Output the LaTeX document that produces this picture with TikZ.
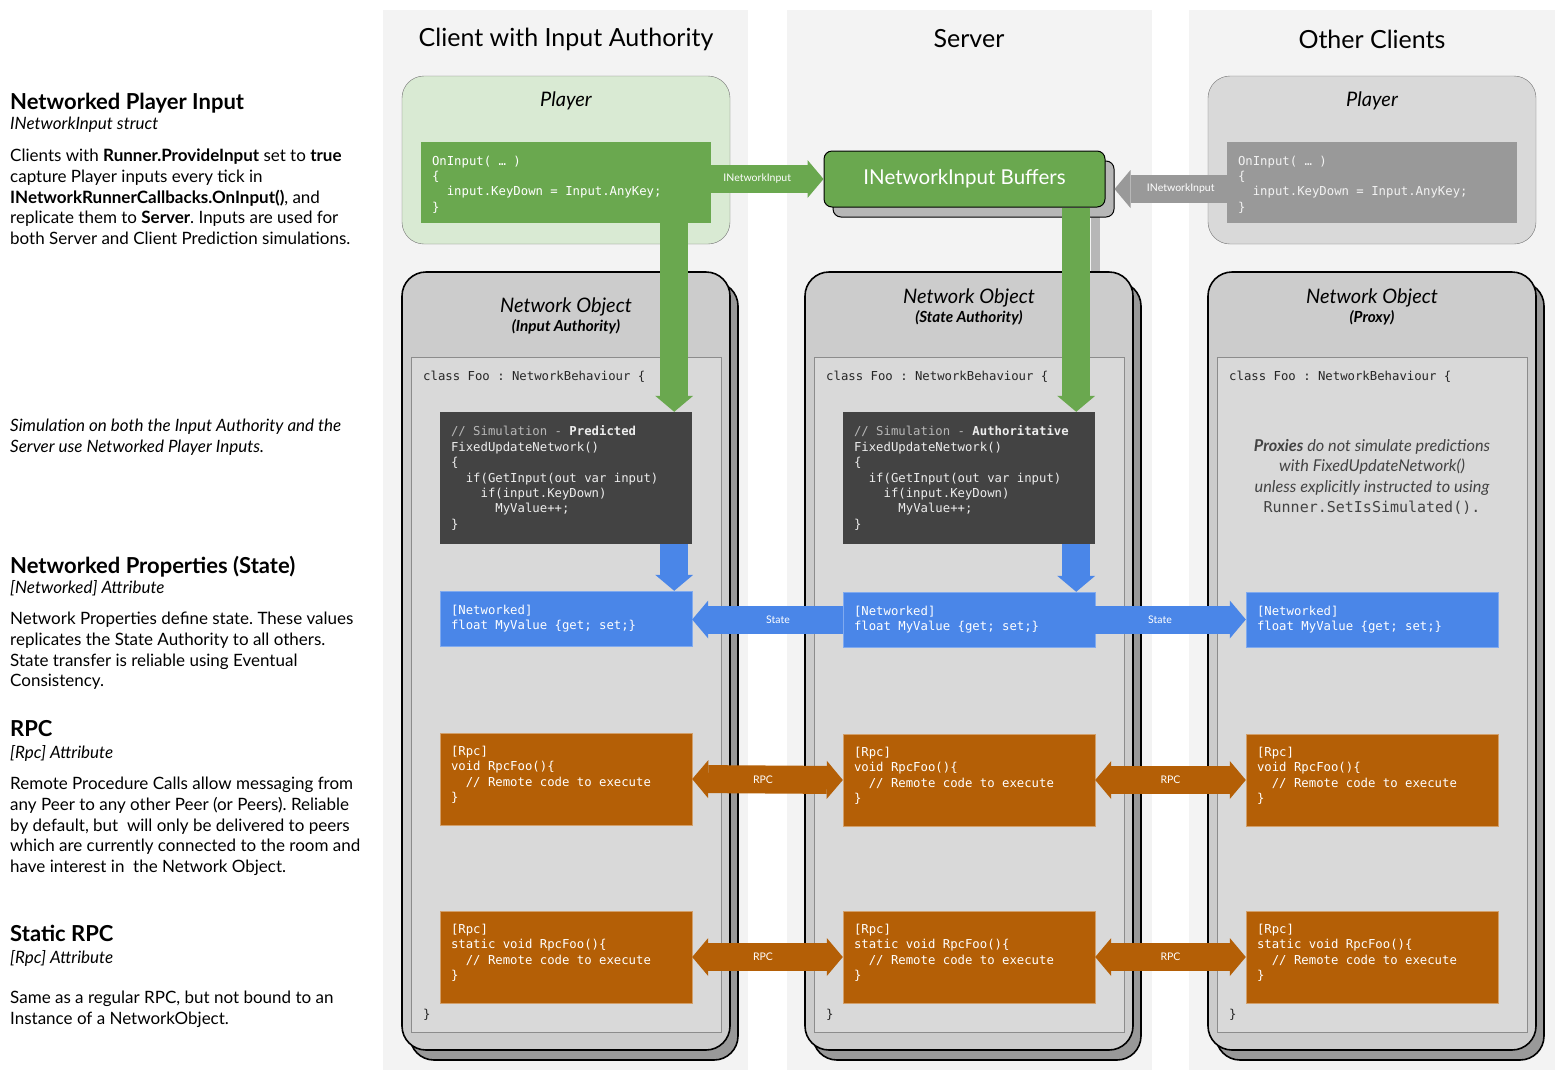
\documentclass[tikz,border=0pt]{standalone}
\usepackage{fontspec}
\setmainfont{Lato}
\setmonofont{DejaVu Sans Mono}
\usetikzlibrary{arrows.meta, positioning, calc}
\definecolor{bandgray}{HTML}{F3F3F3}
\definecolor{playergreen}{HTML}{D9EAD3}
\definecolor{inputgreen}{HTML}{6AA84F}
\definecolor{playergray}{HTML}{D9D9D9}
\definecolor{proxygray}{HTML}{999999}
\definecolor{objgray}{HTML}{CCCCCC}
\definecolor{innergray}{HTML}{D9D9D9}
\definecolor{shadowgray}{HTML}{999999}
\definecolor{bufshadow}{HTML}{B7B7B7}
\definecolor{simdark}{HTML}{434343}
\definecolor{stateblue}{HTML}{4A86E8}
\definecolor{rpcorange}{HTML}{B45F06}
\definecolor{notegray}{HTML}{434343}
\definecolor{commentgray}{HTML}{B7B7B7}
\frenchspacing

\newcommand{\codefont}{\fontsize{12.3}{15.4}\ttfamily}
\newcommand{\ind}[1]{\phantom{#1}}
\newcommand{\netcode}{[Networked]\\ float MyValue \{get; set;\}}
\newcommand{\rpccode}{[Rpc]\\ void RpcFoo()\{\\ \ind{00}// Remote code to execute\\ \}\par\vspace*{8pt}}
\newcommand{\staticrpccode}{[Rpc]\\ static void RpcFoo()\{\\ \ind{00}// Remote code to execute\\ \}\par\vspace*{8pt}}

\begin{document}
\begin{tikzpicture}[
  x=1pt, y=-1pt,
  coltitle/.style={font=\fontsize{25}{29}\selectfont},
  heading/.style={anchor=north west, inner sep=0pt, font=\fontsize{22}{26}\selectfont\bfseries},
  subhead/.style={anchor=north west, inner sep=0pt, font=\fontsize{17}{20}\selectfont\itshape},
  body/.style={anchor=north west, inner sep=0pt, text width=380pt, align=flush left,
    font=\fontsize{17}{20.7}\selectfont},
  playerbox/.style={
    rectangle,
    rounded corners=22pt,
    draw=black!55,
    minimum width=328pt,
    minimum height=168pt
  },
  boxtitle/.style={font=\fontsize{20}{24}\selectfont\itshape},
  objsub/.style={font=\fontsize{15.3}{18}\selectfont\bfseries\itshape},
  objbox/.style={
    rectangle,
    rounded corners=24pt,
    draw=black,
    line width=1.6pt,
    fill=objgray,
    minimum width=328pt,
    minimum height=778pt
  },
  objshadow/.style={objbox, fill=shadowgray},
  innerbox/.style={
    rectangle,
    draw=black!45,
    fill=innergray,
    minimum width=310pt,
    minimum height=675pt
  },
  codebox/.style={
    rectangle,
    inner xsep=11pt,
    inner ysep=0pt,
    text width=230pt,
    align=flush left,
    font=\codefont,
    text=white
  },
  inputcode/.style={codebox, text width=268pt, minimum height=81pt},
  simbox/.style={codebox, fill=simdark, minimum height=132pt, text=black!7},
  netbox/.style={codebox, fill=stateblue, draw=stateblue!70!white, minimum height=55pt},
  rpcbox/.style={codebox, fill=rpcorange, draw=rpcorange!60!white, minimum height=92pt},
  codeline/.style={anchor=west, inner sep=0pt, font=\codefont, text=black!85},
  bufbox/.style={
    rectangle,
    rounded corners=8pt,
    draw=black,
    line width=1pt,
    fill=inputgreen,
    minimum width=281pt,
    minimum height=56pt,
    font=\fontsize{20.5}{24}\selectfont,
    text=white
  },
  fatarrow/.style={
    line width=28pt,
    -{Triangle[length=16pt, width=38pt, line width=0pt]}
  },
  fatboth/.style={
    line width=28pt,
    {Triangle[length=16pt, width=38pt, line width=0pt]}-{Triangle[length=16pt, width=38pt, line width=0pt]}
  },
  flowlabel/.style={font=\fontsize{10.5}{12}\selectfont, text=white}
]
\useasboundingbox (0,0) rectangle (1566,1080);

% Column backgrounds
\fill[bandgray] (383,10) rectangle (748,1070);
\fill[bandgray] (787,10) rectangle (1152,1070);
\fill[bandgray] (1189,10) rectangle (1555,1070);

\node[coltitle] (titleC) at (566,39)  {Client with Input Authority};
\node[coltitle] (titleS) at (969,39)  {Server};
\node[coltitle] (titleO) at (1372,39) {Other Clients};

% Left column descriptions
\node[heading] (hInput) at (10,93) {Networked Player Input};
\node[subhead] (sInput) at (10,117) {INetworkInput struct};
\node[body] (bInput) at (10,149)
{Clients with \textbf{Runner.ProvideInput} set to \textbf{true}\\
capture Player inputs every tick in\\
\textbf{INetworkRunnerCallbacks.OnInput()}, and\\
replicate them to \textbf{Server}. Inputs are used for\\
both Server and Client Prediction simulations.};

\node[body, font=\fontsize{17}{20.7}\selectfont\itshape] (bSim) at (10,419)
{Simulation on both the Input Authority and the\\
Server use Networked Player Inputs.};

\node[heading] (hState) at (10,556) {Networked Properties (State)};
\node[subhead] (sState) at (10,580) {[Networked] Attribute};
\node[body] (bState) at (10,612)
{Network Properties define state. These values\\
replicates the State Authority to all others.\\
State transfer is reliable using Eventual\\
Consistency.};

\node[heading] (hRpc) at (10,720) {RPC};
\node[subhead] (sRpc) at (10,745) {[Rpc] Attribute};
\node[body] (bRpc) at (10,777)
{Remote Procedure Calls allow messaging from\\
any Peer to any other Peer (or Peers). Reliable\\
by default, but\ \ will only be delivered to peers\\
which are currently connected to the room and\\
have interest in\ \ the Network Object.};

\node[heading] (hStatic) at (10,925) {Static RPC};
\node[subhead] (sStatic) at (10,950) {[Rpc] Attribute};
\node[body] (bStatic) at (10,991)
{Same as a regular RPC, but not bound to an\\
Instance of a NetworkObject.};

% Player boxes
\node[playerbox, fill=playergreen] (playerC) at (566,160) {};
\node[boxtitle] (playerCtitle) at (566,101) {Player};
\node[inputcode, fill=inputgreen] (codeC) at (566,182.5)
{OnInput( … )\\ \{\\ \ind{00}input.KeyDown = Input.AnyKey;\\ \}\par\vspace*{-4pt}};

\node[playerbox, fill=playergray] (playerO) at (1372,160) {};
\node[boxtitle] (playerOtitle) at (1372,101) {Player};
\node[inputcode, fill=proxygray, text=black!5] (codeO) at (1372,182.5)
{OnInput( … )\\ \{\\ \ind{00}input.KeyDown = Input.AnyKey;\\ \}\par\vspace*{-4pt}};

% Shadow strip under the buffer arrow
\fill[bufshadow] (1091,207) rectangle (1100,272);

% Network objects
\node[objshadow] (objCshadow) at (574,671) {};
\node[objbox] (objC) at (566,661) {};
\node[boxtitle] (objCtitle) at (566,307) {Network Object};
\node[objsub] (objCsub) at (566,327) {(Input Authority)};
\node[innerbox] (inC) at (566,694.5) {};

\node[objshadow] (objSshadow) at (977,671) {};
\node[objbox] (objS) at (969,661) {};
\node[boxtitle] (objStitle) at (969,298) {Network Object};
\node[objsub] (objSsub) at (969,318) {(State Authority)};
\node[innerbox] (inS) at (969,694.5) {};

\node[objshadow] (objOshadow) at (1380,671) {};
\node[objbox] (objO) at (1372,661) {};
\node[boxtitle] (objOtitle) at (1372,298) {Network Object};
\node[objsub] (objOsub) at (1372,318) {(Proxy)};
\node[innerbox] (inO) at (1372,694.5) {};

% class Foo lines
\node[codeline] (classC) at (423,377) {class Foo : NetworkBehaviour \{};
\node[codeline] (classS) at (826,377) {class Foo : NetworkBehaviour \{};
\node[codeline] (classO) at (1229,377) {class Foo : NetworkBehaviour \{};
\node[codeline] (endC) at (423,1015) {\}};
\node[codeline] (endS) at (826,1015) {\}};
\node[codeline] (endO) at (1229,1015) {\}};

% Simulation
\node[simbox] (simC) at (566,478)
{{\color{commentgray}// Simulation - }\textbf{Predicted}\\
FixedUpdateNetwork()\\ \{\\ \ind{00}if(GetInput(out var input)\\
\ind{0000}if(input.KeyDown)\\ \ind{000000}MyValue++;\\ \}};
\node[simbox] (simS) at (969,478)
{{\color{commentgray}// Simulation - }\textbf{Authoritative}\\
FixedUpdateNetwork()\\ \{\\ \ind{00}if(GetInput(out var input)\\
\ind{0000}if(input.KeyDown)\\ \ind{000000}MyValue++;\\ \}};
\node[align=flush center, text=notegray, font=\fontsize{16.3}{20.5}\selectfont\itshape] (noteO) at (1372,477)
{\textbf{Proxies} do not simulate predictions\\
with FixedUpdateNetwork()\\
unless explicitly instructed to using\\
{\fontsize{15}{20.5}\upshape\ttfamily Runner.SetIsSimulated().}};

% Networked properties
\node[netbox] (netC) at (566,618.5) {\netcode};
\node[netbox] (netS) at (969,619.5) {\netcode};
\node[netbox] (netO) at (1372,619.5) {\netcode};

% RPCs
\node[rpcbox] (rpcC) at (566,779) {\rpccode};
\node[rpcbox] (rpcS) at (969,780) {\rpccode};
\node[rpcbox] (rpcO) at (1372,780) {\rpccode};

\node[rpcbox] (srpcC) at (566,957) {\staticrpccode};
\node[rpcbox] (srpcS) at (969,957) {\staticrpccode};
\node[rpcbox] (srpcO) at (1372,957) {\staticrpccode};

% Input buffers on the server
\node[bufbox, fill=bufshadow] (bufshade) at (973.5,189) {};
\node[bufbox] (buf) at (964.5,179) {INetworkInput Buffers};

% Input flow
\coordinate (dropC) at ($(simC.north east)+(-18,0)$);
\coordinate (dropS) at ($(simS.north east)+(-19,0)$);

\draw[fatarrow, draw=inputgreen] (codeC.east |- buf.west) --
node[pos=0.41, flowlabel] {INetworkInput}
(buf.west);

\draw[fatarrow, draw=proxygray] (codeO.west |- bufshade.east) --
node[pos=0.41, flowlabel] {INetworkInput}
(bufshade.east);

\draw[fatarrow, draw=inputgreen] (codeC.south -| dropC) -- (dropC);
\draw[fatarrow, draw=inputgreen] (buf.south -| dropS) -- (dropS);

% Simulation writes state
\draw[fatarrow, draw=stateblue] (simC.south -| dropC) -- (netC.north -| dropC);
\draw[fatarrow, draw=stateblue] (simS.south -| dropS) -- (netS.north -| dropS);

% State replication
\draw[fatarrow, draw=stateblue] (netS.west) --
node[pos=0.43, flowlabel] {State}
(netS.west -| netC.east);

\draw[fatarrow, draw=stateblue] (netS.east) --
node[pos=0.43, flowlabel] {State}
(netO.west);

% RPC messages
\draw[fatboth, draw=rpcorange] (rpcC.east) --
node[pos=0.47, flowlabel] {RPC}
(rpcS.west);
\draw[fatboth, draw=rpcorange] (rpcS.east) --
node[midway, flowlabel] {RPC}
(rpcO.west);

\draw[fatboth, draw=rpcorange] (srpcC.east) --
node[pos=0.47, flowlabel] {RPC}
(srpcS.west);
\draw[fatboth, draw=rpcorange] (srpcS.east) --
node[midway, flowlabel] {RPC}
(srpcO.west);

\end{tikzpicture}
\end{document}
